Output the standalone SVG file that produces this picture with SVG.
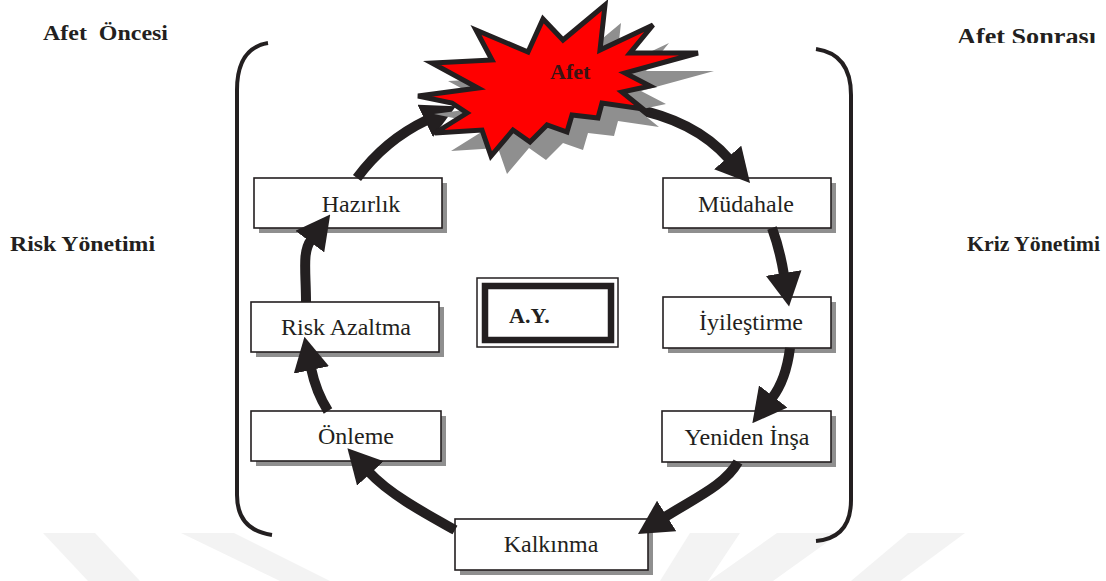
<svg xmlns="http://www.w3.org/2000/svg" width="1106" height="581" viewBox="0 0 1106 581">
<style>
.lbl{font-family:"Liberation Serif","Times New Roman",serif;font-size:24px;fill:#231f20;text-anchor:middle}
.ttl{font-family:"Liberation Serif","Times New Roman",serif;font-size:22px;font-weight:bold;fill:#231f20}
.box{fill:#fff;stroke:#231f20;stroke-width:1.6}
.shd{fill:#8f8f8f}
.arc{fill:none;stroke:#231f20;stroke-width:10;marker-end:url(#ah)}
.brk{fill:none;stroke:#231f20;stroke-width:4;stroke-linecap:butt}
.wm{fill:#f3f3f3}
</style>
<defs>
<marker id="ah" markerUnits="userSpaceOnUse" markerWidth="34" markerHeight="36" viewBox="0 0 34 36" refX="2" refY="18" orient="auto">
<path d="M0,0 L34,18 L0,36 z" fill="#231f20"/>
</marker>
<clipPath id="clipTop"><rect x="900" y="0" width="206" height="43"/></clipPath>
</defs>

<g id="watermark">
<polygon class="wm" points="43,533 95,533 140,581 88,581"/>
<polygon class="wm" points="181,533 234,533 330,581 280,581"/>
<polygon class="wm" points="690,533 740,533 708,581 660,581"/>
<polygon class="wm" points="777,533 840,533 773,581 709,581"/>
<polygon class="wm" points="908,533 965,533 900,581 851,581"/>
</g>

<g id="brackets">
<path class="brk" d="M268,43 Q237,48 237,90 L237,495 Q237,530 272,535"/>
<path class="brk" d="M816,49 Q851,54 851,95 L851,500 Q851,538 816,541"/>
</g>

<g id="side-labels">
<text class="ttl" x="43" y="40" textLength="125" lengthAdjust="spacingAndGlyphs" xml:space="preserve">Afet  Öncesi</text>
<text class="ttl" x="957" y="44" style="font-size:24px" textLength="139" lengthAdjust="spacingAndGlyphs" clip-path="url(#clipTop)">Afet Sonrası</text>
<text class="ttl" x="10" y="251" textLength="145" lengthAdjust="spacingAndGlyphs">Risk Yönetimi</text>
<text class="ttl" x="967" y="251" textLength="133" lengthAdjust="spacingAndGlyphs">Kriz Yönetimi</text>
</g>

<g id="node-hazirlik">
<rect class="shd" x="259" y="183" width="188" height="50"/>
<rect class="box" x="254" y="178" width="188" height="50"/>
<text class="lbl" x="361" y="212">Hazırlık</text>
</g>
<g id="node-risk-azaltma">
<rect class="shd" x="256" y="307" width="188" height="50"/>
<rect class="box" x="251" y="302" width="188" height="50"/>
<text class="lbl" x="346" y="335">Risk Azaltma</text>
</g>
<g id="node-onleme">
<rect class="shd" x="256" y="416" width="190" height="50"/>
<rect class="box" x="251" y="411" width="190" height="50"/>
<text class="lbl" x="356" y="444">Önleme</text>
</g>
<g id="node-kalkinma">
<rect class="shd" x="460" y="524" width="193" height="51"/>
<rect class="box" x="455" y="519" width="193" height="51"/>
<text class="lbl" x="551" y="552">Kalkınma</text>
</g>
<g id="node-mudahale">
<rect class="shd" x="668" y="183" width="168" height="50"/>
<rect class="box" x="663" y="178" width="168" height="50"/>
<text class="lbl" x="746" y="212">Müdahale</text>
</g>
<g id="node-iyilestirme">
<rect class="shd" x="668" y="302" width="168" height="51"/>
<rect class="box" x="663" y="297" width="168" height="51"/>
<text class="lbl" x="751" y="330">İyileştirme</text>
</g>
<g id="node-yeniden-insa">
<rect class="shd" x="667" y="416" width="169" height="51"/>
<rect class="box" x="662" y="411" width="169" height="51"/>
<text class="lbl" x="747" y="445">Yeniden İnşa</text>
</g>

<g id="node-ay">
<rect x="477" y="278" width="141" height="69" fill="#fff" stroke="#231f20" stroke-width="1.5"/>
<rect x="485" y="286" width="126" height="54" fill="#fff" stroke="#231f20" stroke-width="6.5"/>
<text class="ttl" x="509" y="323">A.Y.</text>
</g>

<g id="connectors">
<path class="arc" d="M455,530 C430,516 390,495 369,472"/>
<path class="arc" d="M328,411 Q316,392 311,368"/>
<path class="arc" d="M306,302 C306,272 302,252 311,240"/>
<path class="arc" d="M357,178 Q385,140 427,120"/>
<path class="arc" d="M630,108 Q695,120 729,159"/>
<path class="arc" d="M772,228 Q780,250 784,275"/>
<path class="arc" d="M790,348 Q786,380 772,398"/>
<path class="arc" d="M738,462 C725,485 695,498 665,517"/>
</g>

<g id="node-afet">
<polygon transform="translate(16,18)" fill="#8f8f8f" points="418,96 478,88 432,63 492,60 476,30 528,52 543,19 563,40 605,5 600,50 653,25 630,53 698,53 625,73 650,86 622,92 643,109 602,103 598,118 572,115 567,132 547,125 530,142 513,130 491,156 482,130 435,133 467,113 452,103"/>
<polygon fill="#ff0000" stroke="#231f20" stroke-width="5" stroke-linejoin="miter" points="418,96 478,88 432,63 492,60 476,30 528,52 543,19 563,40 605,5 600,50 653,25 630,53 698,53 625,73 650,86 622,92 643,109 602,103 598,118 572,115 567,132 547,125 530,142 513,130 491,156 482,130 435,133 467,113 452,103"/>
<text class="ttl" x="550" y="79" style="fill:#3a1414">Afet</text>
</g>
</svg>
